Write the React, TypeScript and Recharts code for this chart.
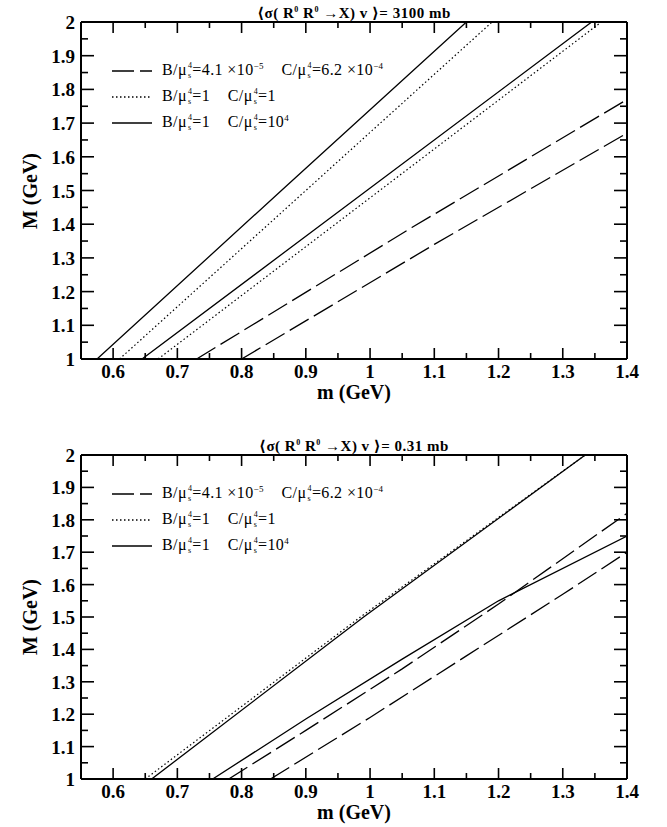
import React from "react";
import { LineChart, Line, XAxis, YAxis } from "recharts";

// tick positions (minor every 0.05, labels on the 0.1 marks)
const xTicks = [0.55, 0.6, 0.65, 0.7, 0.75, 0.8, 0.85, 0.9, 0.95, 1, 1.05, 1.1, 1.15, 1.2, 1.25, 1.3, 1.35, 1.4];
const yTicks = [1, 1.05, 1.1, 1.15, 1.2, 1.25, 1.3, 1.35, 1.4, 1.45, 1.5, 1.55, 1.6, 1.65, 1.7, 1.75, 1.8, 1.85, 1.9, 1.95, 2];

// <σ v> = 3100 mb
const topSolidA = [{ m: 0.575, M: 1 }, { m: 0.862, M: 1.5 }, { m: 1.15, M: 2 }];
const topDottedA = [{ m: 0.61, M: 1 }, { m: 0.9, M: 1.5 }, { m: 1.19, M: 2 }];
const topSolidB = [{ m: 0.645, M: 1 }, { m: 0.995, M: 1.5 }, { m: 1.345, M: 2 }];
const topDottedB = [{ m: 0.67, M: 1 }, { m: 1.015, M: 1.5 }, { m: 1.36, M: 2 }];
const topDashedA = [{ m: 0.73, M: 1 }, { m: 1.065, M: 1.39 }, { m: 1.4, M: 1.77 }];
const topDashedB = [{ m: 0.8, M: 1 }, { m: 1.1, M: 1.34 }, { m: 1.4, M: 1.67 }];

// <σ v> = 0.31 mb
const botSolidA = [{ m: 0.66, M: 1 }, { m: 0.99, M: 1.5 }, { m: 1.335, M: 2 }];
const botDottedA = [{ m: 0.65, M: 1 }, { m: 0.985, M: 1.5 }, { m: 1.335, M: 2 }];
const botSolidB = [{ m: 0.755, M: 1 }, { m: 0.9, M: 1.185 }, { m: 1.05, M: 1.37 }, { m: 1.2, M: 1.55 }, { m: 1.4, M: 1.75 }];
const botDashedA = [{ m: 0.78, M: 1 }, { m: 0.9, M: 1.15 }, { m: 1.05, M: 1.34 }, { m: 1.2, M: 1.54 }, { m: 1.4, M: 1.82 }];
const botDashedB = [{ m: 0.845, M: 1 }, { m: 1.0, M: 1.19 }, { m: 1.15, M: 1.38 }, { m: 1.3, M: 1.57 }, { m: 1.4, M: 1.7 }];

const serif = "'Liberation Serif', 'DejaVu Serif', serif";
const DASH = "22 6";
const DOT = "1.5 2.5";

const isMajor = (v: number) => Math.abs(v * 10 - Math.round(v * 10)) < 1e-6;
const fmt = (v: number) => String(Math.round(v * 10) / 10);

function BottomTick({ x, y, payload }: any) {
  const major = isMajor(payload.value);
  return (
    <g>
      <line x1={x} x2={x} y1={y} y2={y - (major ? 11 : 6)} stroke="#000" strokeWidth={1.6} />
      {major && (
        <text x={x} y={y + 19} textAnchor="middle" fontFamily={serif} fontWeight="bold" fontSize={19} fill="#000">
          {fmt(payload.value)}
        </text>
      )}
    </g>
  );
}

function TopTick({ x, y, payload }: any) {
  const major = isMajor(payload.value);
  return <line x1={x} x2={x} y1={y} y2={y + (major ? 11 : 6)} stroke="#000" strokeWidth={1.6} />;
}

function LeftTick({ x, y, payload }: any) {
  const major = isMajor(payload.value);
  return (
    <g>
      <line x1={x} x2={x + (major ? 13 : 7)} y1={y} y2={y} stroke="#000" strokeWidth={1.6} />
      {major && (
        <text x={x - 6} y={y + 7} textAnchor="end" fontFamily={serif} fontWeight="bold" fontSize={19} fill="#000">
          {fmt(payload.value)}
        </text>
      )}
    </g>
  );
}

function RightTick({ x, y, payload }: any) {
  const major = isMajor(payload.value);
  return <line x1={x} x2={x - (major ? 13 : 7)} y1={y} y2={y} stroke="#000" strokeWidth={1.6} />;
}

function Mu() {
  return (
    <span>
      μ
      <span style={{ display: "inline-flex", flexDirection: "column", fontSize: 8, lineHeight: "10px", verticalAlign: "middle", marginLeft: 1 }}>
        <span>4</span>
        <span>s</span>
      </span>
    </span>
  );
}

function LegendBox({ top }: { top: number }) {
  const rows = [
    {
      dash: DASH,
      text: (
        <span>
          B/<Mu />=4.1 ×10<sup style={{ fontSize: 9 }}>−5</sup>&nbsp;&nbsp;&nbsp; C/<Mu />=6.2 ×10<sup style={{ fontSize: 9 }}>−4</sup>
        </span>
      ),
    },
    { dash: DOT, text: (<span>B/<Mu />=1&nbsp;&nbsp;&nbsp; C/<Mu />=1</span>) },
    { dash: undefined, text: (<span>B/<Mu />=1&nbsp;&nbsp;&nbsp; C/<Mu />=10<sup style={{ fontSize: 9 }}>4</sup></span>) },
  ];
  return (
    <div style={{ position: "absolute", left: 112, top, fontFamily: serif, fontSize: 16, letterSpacing: 0.4, color: "#000" }}>
      {rows.map((r, i) => (
        <div key={i} style={{ display: "flex", alignItems: "center", height: 26 }}>
          <svg width={40} height={6} style={{ marginRight: 10 }}>
            <line x1={0} x2={40} y1={3} y2={3} stroke="#000" strokeWidth={1.3} strokeDasharray={r.dash} />
          </svg>
          {r.text}
        </div>
      ))}
    </div>
  );
}

function Panel({ top, height, margin, lines, title, legendTop }: any) {
  // axes take 1px each, so the frame sits one pixel inside the margins
  const m = { top: margin.top - 1, right: margin.right - 1, bottom: margin.bottom - 1, left: margin.left - 1 };
  return (
    <div style={{ position: "absolute", left: 0, top, width: 667, height }}>
      <LineChart width={667} height={height} margin={m}>
        <XAxis xAxisId="b" dataKey="m" type="number" domain={[0.55, 1.4]} ticks={xTicks} allowDataOverflow
          axisLine={{ stroke: "#000", strokeWidth: 2 }} tickLine={false} tickSize={0} tickMargin={0} height={1} tick={<BottomTick />} interval={0} />
        <XAxis xAxisId="t" orientation="top" dataKey="m" type="number" domain={[0.55, 1.4]} ticks={xTicks} allowDataOverflow
          axisLine={{ stroke: "#000", strokeWidth: 2 }} tickLine={false} tickSize={0} tickMargin={0} height={1} tick={<TopTick />} interval={0} />
        <YAxis yAxisId="l" type="number" domain={[1, 2]} ticks={yTicks} allowDataOverflow
          axisLine={{ stroke: "#000", strokeWidth: 2 }} tickLine={false} tickSize={0} tickMargin={0} width={1} tick={<LeftTick />} interval={0} />
        <YAxis yAxisId="r" orientation="right" type="number" domain={[1, 2]} ticks={yTicks} allowDataOverflow
          axisLine={{ stroke: "#000", strokeWidth: 2 }} tickLine={false} tickSize={0} tickMargin={0} width={1} tick={<RightTick />} interval={0} />
        {lines.map((l: any, i: number) => (
          <Line key={i} xAxisId="b" yAxisId="l" data={l.data} dataKey="M" type="linear" stroke="#000"
            strokeWidth={l.dash === DOT ? 1.2 : 1.3} strokeDasharray={l.dash} dot={false} isAnimationActive={false} />
        ))}
      </LineChart>
      <div style={{ position: "absolute", left: 81, width: 546, top: margin.top - 21, lineHeight: "18px", textAlign: "center", fontFamily: serif, fontWeight: "bold", fontSize: 15, letterSpacing: 0.5 }}>
        {title}
      </div>
      <div style={{ position: "absolute", left: 81, width: 546, top: height - margin.bottom + 23, lineHeight: "20px", textAlign: "center", fontFamily: serif, fontWeight: "bold", fontSize: 20 }}>
        m (GeV)
      </div>
      <div style={{ position: "absolute", left: 30, top: margin.top + (height - margin.top - margin.bottom) / 2, transform: "translate(-50%, -50%) rotate(-90deg)", whiteSpace: "nowrap", fontFamily: serif, fontWeight: "bold", fontSize: 20 }}>
        M (GeV)
      </div>
      <LegendBox top={legendTop} />
    </div>
  );
}

function Title({ value }: { value: string }) {
  return (
    <span>
      ⟨σ( R<sup style={{ fontSize: 8 }}>0</sup> R<sup style={{ fontSize: 8 }}>0</sup> →X) v ⟩= {value} mb
    </span>
  );
}

export default function App() {
  return (
    <div style={{ position: "absolute", left: 0, top: 0, width: 667, height: 827, background: "#fff" }}>
      <Panel top={0} height={410} margin={{ top: 22, right: 40, bottom: 51, left: 81 }} legendTop={58} title={<Title value="3100" />}
        lines={[
          { data: topSolidA }, { data: topDottedA, dash: DOT }, { data: topSolidB }, { data: topDottedB, dash: DOT },
          { data: topDashedA, dash: DASH }, { data: topDashedB, dash: DASH },
        ]} />
      <Panel top={410} height={417} margin={{ top: 45, right: 40, bottom: 48, left: 81 }} legendTop={71} title={<Title value="0.31" />}
        lines={[
          { data: botSolidA }, { data: botDottedA, dash: DOT }, { data: botSolidB },
          { data: botDashedA, dash: DASH }, { data: botDashedB, dash: DASH },
        ]} />
    </div>
  );
}
